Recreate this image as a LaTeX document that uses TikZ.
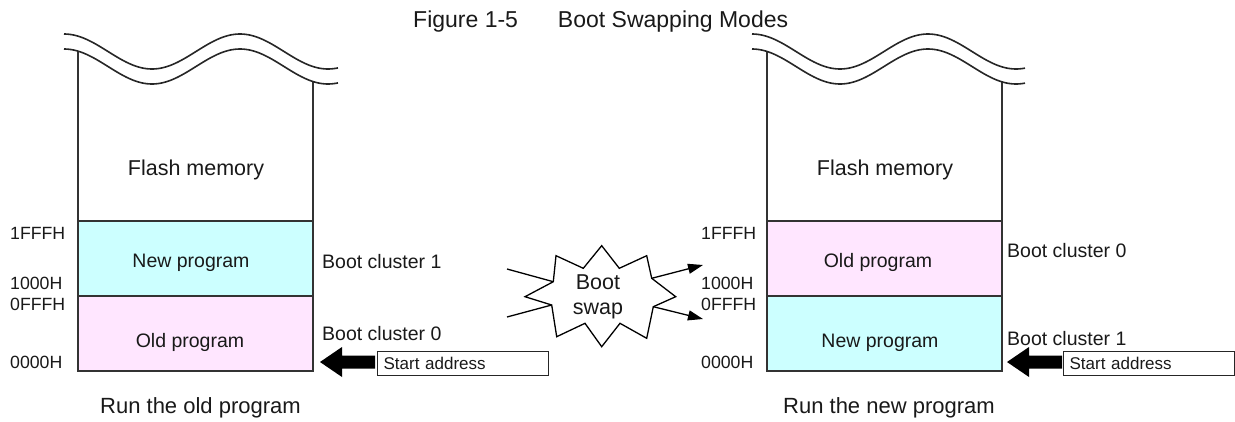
\documentclass[tikz,border=0pt]{standalone}
\usepackage{fontspec}
\setmainfont{Liberation Sans}
\usetikzlibrary{arrows.meta}
\definecolor{cyanfill}{RGB}{204,255,255}
\definecolor{pinkfill}{RGB}{255,230,255}
\newcommand\fsz[1]{\fontsize{#1pt}{#1pt}\selectfont}
\begin{document}
\begin{tikzpicture}[x=1pt,y=-1pt,
  wave/.style={line width=1.6pt, black!85},
  frame/.style={line width=1.2pt, black!80},
  region/.style={draw, frame, minimum width=235pt, minimum height=75pt, anchor=north west, inner sep=0pt, outer sep=0pt},
  boxtxt/.style={anchor=base, font=\fsz{19.5}, text=black!90, inner sep=0pt},
  flashtxt/.style={anchor=base, font=\fsz{21.5}, text=black!90, inner sep=0pt},
  addr/.style={anchor=base west, font=\fsz{17.7}, text=black!90, inner sep=0pt},
  cluster/.style={anchor=base west, font=\fsz{19.5}, text=black!90, inner sep=0pt},
  caption/.style={anchor=base west, font=\fsz{22}, text=black!90, inner sep=0pt},
  sabox/.style={draw, line width=1.3pt, black!85, text=black!90, anchor=north west, minimum height=24pt, text width=159pt, inner xsep=6pt, inner ysep=0pt, align=left, font=\fsz{17}},
  conn/.style={line width=1.3pt, black},
  starline/.style={line width=1.3pt, black, line join=miter},
  swaptip/.style={-{Triangle[length=15pt,width=10pt]}}
]
\useasboundingbox (0,0) rectangle (1235,421);

% title
\node[anchor=base west, font=\fsz{23}, text=black!90, inner sep=0pt] (title) at (413,27) {Figure 1-5\hspace{40pt}Boot Swapping Modes};

% ---------- left memory ----------
\node[region, fill=cyanfill] (newL) at (78,221) {};
\node[region, fill=pinkfill] (oldL) at (78,296) {};
\draw[frame] (78,{66.5-17.5*cos(2.04545*14)}) -- (78,371);
\draw[frame] (313,{66.5-17.5*cos(2.04545*249)}) -- (313,371);
\draw[wave] plot[domain=0:274, samples=120, smooth] ({64+\x}, {51.5-17.5*cos(2.04545*\x)});
\draw[wave] plot[domain=0:274, samples=120, smooth] ({64+\x}, {66.5-17.5*cos(2.04545*\x)});
\node[flashtxt] (flashL) at (196,175) {Flash memory};
\node[boxtxt] (newLt) at (191,267) {New program};
\node[boxtxt] (oldLt) at (190,347) {Old program};
\node[addr] (a1L) at (10,239) {1FFFH};
\node[addr] (a2L) at (10,289) {1000H};
\node[addr] (a3L) at (10,310) {0FFFH};
\node[addr] (a4L) at (10,368) {0000H};
\node[cluster] (c1L) at (322,268) {Boot cluster 1};
\node[cluster] (c0L) at (322,340) {Boot cluster 0};
\node[sabox] (saL) at (377,351) {Start address};
\coordinate (tipL) at (320,362);
\fill[black] (tipL) -- ++(22,-15) -- ++(0,8.5) -- ++(33,0) -- ++(0,13) -- ++(-33,0) -- ++(0,8.5) -- cycle;
\node[caption] (capL) at (100,413) {Run the old program};

% ---------- right memory ----------
\node[region, fill=pinkfill] (oldR) at (767,221) {};
\node[region, fill=cyanfill] (newR) at (767,296) {};
\draw[frame] (767,{66.5-17.5*cos(2.04545*15)}) -- (767,371);
\draw[frame] (1002,{66.5-17.5*cos(2.04545*250)}) -- (1002,371);
\draw[wave] plot[domain=0:273, samples=120, smooth] ({752+\x}, {51.5-17.5*cos(2.04545*\x)});
\draw[wave] plot[domain=0:273, samples=120, smooth] ({752+\x}, {66.5-17.5*cos(2.04545*\x)});
\node[flashtxt] (flashR) at (885,175) {Flash memory};
\node[boxtxt] (oldRt) at (878,267) {Old program};
\node[boxtxt] (newRt) at (880,347) {New program};
\node[addr] (a1R) at (701,239) {1FFFH};
\node[addr] (a2R) at (701,289) {1000H};
\node[addr] (a3R) at (701,310) {0FFFH};
\node[addr] (a4R) at (701,368) {0000H};
\node[cluster] (c0R) at (1007,257) {Boot cluster 0};
\node[cluster] (c1R) at (1007,345) {Boot cluster 1};
\node[sabox] (saR) at (1063,351) {Start address};
\coordinate (tipR) at (1007,362);
\fill[black] (tipR) -- ++(22,-15) -- ++(0,8.5) -- ++(33,0) -- ++(0,13) -- ++(-33,0) -- ++(0,8.5) -- cycle;
\node[caption] (capR) at (783,413) {Run the new program};

% ---------- boot swap star ----------
\coordinate (s1) at (601.7,245.7);
\coordinate (s2) at (619.3,268.3);
\coordinate (s3) at (646.7,255.7);
\coordinate (sR1) at (651.7,278.3);
\coordinate (s5) at (675.7,296.7);
\coordinate (sR2) at (653.3,306.7);
\coordinate (s7) at (646.7,338.3);
\coordinate (s8) at (620,323.3);
\coordinate (s9) at (601.7,346.7);
\coordinate (s10) at (585,323.3);
\coordinate (s11) at (556.7,336.7);
\coordinate (sL2) at (551.7,305);
\coordinate (s13) at (525,296.7);
\coordinate (sL1) at (553.3,281.7);
\coordinate (s15) at (556,255.7);
\coordinate (s16) at (583.3,268.3);
\draw[starline] (s1) -- (s2) -- (s3) -- (sR1) -- (s5) -- (sR2) -- (s7) -- (s8) -- (s9) -- (s10) -- (s11) -- (sL2) -- (s13) -- (sL1) -- (s15) -- (s16) -- cycle;
\node[align=center, font=\fontsize{21.5pt}{25pt}\selectfont, text=black!90, inner sep=0pt] (swap) at (598,297) {Boot\\swap};
\coordinate (inL1) at (507,269);
\coordinate (inL2) at (507,317);
\coordinate (outR1) at (703,265);
\coordinate (outR2) at (703,319);
\draw[conn] (inL1) -- (sL1);
\draw[conn] (inL2) -- (sL2);
\draw[conn, swaptip] (sR1) -- (outR1);
\draw[conn, swaptip] (sR2) -- (outR2);
\end{tikzpicture}
\end{document}
